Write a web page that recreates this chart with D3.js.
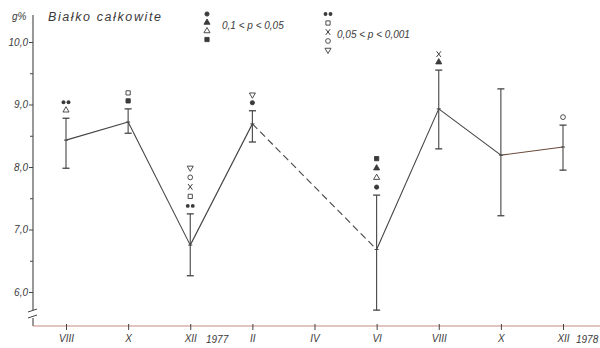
<!DOCTYPE html>
<html>
<head>
<meta charset="utf-8">
<script src="https://cdn.jsdelivr.net/npm/d3@7"></script>
<style>
  html, body { margin: 0; padding: 0; background: #fff; }
  svg { display: block; }
  text { font-family: "Liberation Sans", "DejaVu Sans", sans-serif; font-style: italic; fill: #3a3a3a; }
</style>
</head>
<body>
<svg id="chart" width="600" height="348"></svg>
<script>
// Month labels along the time axis (Aug 1977 – Dec 1978)
const monthLabels = ["VIII", "X", "XII", "II", "IV", "VI", "VIII", "X", "XII"];
// Month index for each sampling
const sampleIdx = [0, 1, 2, 3, 5, 6, 7, 8];
// Mean total protein (g%) and range ends
const means = [8.43, 8.72, 6.75, 8.69, 6.68, 8.93, 8.19, 8.32];
const upper = [8.78, 8.93, 7.25, 8.90, 7.55, 9.55, 9.25, 8.67];
const lower = [7.98, 8.54, 6.26, 8.40, 5.71, 8.29, 7.22, 7.95];
// Significance markers stacked above each range (top to bottom)
const sigMarks = [
  ["pair", "triOpen"],
  ["sqOpen", "sqFill"],
  ["triDown", "circOpen", "cross", "sqOpen", "pair"],
  ["triDown", "dot"],
  ["sqFill", "triFill", "triOpen", "dot"],
  ["cross", "triFill"],
  [],
  ["circOpen"]
];
// Segment styles between consecutive samples (II → VI is interpolated)
const segDash = [false, false, false, true, false, false, false];
const yTicks = [6, 7, 8, 9, 10];
const yMinor = [6.5, 7.5, 8.5, 9.5];
const yTickLabels = ["6,0", "7,0", "8,0", "9,0", "10,0"];
const legendA = ["dot", "triFill", "triOpen", "sqFill"];
const legendB = ["pair", "sqOpen", "cross", "circOpen", "triDown"];

const svg = d3.select("#chart");
const ink = "#444";

const x = d3.scaleLinear().domain([0, 8]).range([66, 563]);
const y = d3.scaleLinear().domain([6, 10]).range([292, 42]);

const axisX = 33, baseY = 326;

// Y axis with a break near the bottom
svg.append("line").attr("x1", axisX).attr("x2", axisX).attr("y1", 15).attr("y2", 310)
  .attr("stroke", ink).attr("stroke-width", 1.1);
svg.append("line").attr("x1", axisX).attr("x2", axisX).attr("y1", 318).attr("y2", baseY)
  .attr("stroke", ink).attr("stroke-width", 1.1);
[[309, 312], [315, 318]].forEach(([a, b]) => {
  svg.append("line").attr("x1", axisX - 5).attr("y1", b).attr("x2", axisX + 4).attr("y2", a)
    .attr("stroke", ink).attr("stroke-width", 1);
});

const gy = svg.append("g").attr("transform", `translate(${axisX},0)`)
  .call(d3.axisLeft(y).tickValues(yTicks).tickSize(4)
    .tickFormat((d, i) => yTickLabels[i]));
gy.select(".domain").remove();
gy.selectAll(".tick line").attr("stroke", ink);
gy.selectAll(".tick text").attr("font-size", 10).attr("x", -5).attr("fill", "#555")
  .style("font-family", "'Liberation Sans', sans-serif").style("font-style", "italic");
const gym = svg.append("g").attr("transform", `translate(${axisX},0)`)
  .call(d3.axisLeft(y).tickValues(yMinor).tickSize(3).tickFormat(""));
gym.select(".domain").remove();
gym.selectAll(".tick line").attr("stroke", ink);

svg.append("text").attr("x", 12).attr("y", 20).attr("font-size", 10).attr("fill", "#555").text("g%");

// X axis
svg.append("line").attr("x1", axisX).attr("x2", 600).attr("y1", baseY).attr("y2", baseY)
  .attr("stroke", "#c98a7e").attr("stroke-width", 1.2);
const gx = svg.append("g").attr("transform", `translate(0,${baseY})`)
  .call(d3.axisBottom(x).tickValues(d3.range(9)).tickSize(4)
    .tickFormat(i => monthLabels[i]));
gx.select(".domain").remove();
gx.selectAll(".tick line").attr("stroke", ink).attr("y1", -2);
gx.selectAll(".tick text").attr("font-size", 10).attr("dy", "0.9em").attr("fill", "#555")
  .style("font-family", "'Liberation Sans', sans-serif").style("font-style", "italic");

svg.append("text").attr("x", 206).attr("y", 343).attr("font-size", 10).attr("fill", "#555").text("1977");
svg.append("text").attr("x", 576).attr("y", 343).attr("font-size", 10).attr("fill", "#555").text("1978");

// Title
svg.append("text").attr("x", 48).attr("y", 21).attr("font-size", 12.5)
  .attr("letter-spacing", 1.6).attr("fill", "#555").text("Białko całkowite");

// Mean line
for (let i = 0; i < sampleIdx.length - 1; i++) {
  svg.append("line")
    .attr("x1", x(sampleIdx[i])).attr("y1", y(means[i]))
    .attr("x2", x(sampleIdx[i + 1])).attr("y2", y(means[i + 1]))
    .attr("stroke", i === 6 ? "#6b4a3a" : "#444").attr("stroke-width", 1.1)
    .attr("stroke-dasharray", segDash[i] ? "7,4" : null);
}

// Range bars
sampleIdx.forEach((m, i) => {
  const cx = x(m);
  svg.append("line").attr("x1", cx).attr("x2", cx).attr("y1", y(upper[i])).attr("y2", y(lower[i]))
    .attr("stroke", "#444").attr("stroke-width", 1.1);
  [upper[i], lower[i]].forEach(v => {
    svg.append("line").attr("x1", cx - 3.5).attr("x2", cx + 3.5).attr("y1", y(v)).attr("y2", y(v))
      .attr("stroke", "#444").attr("stroke-width", 1.3);
  });
  svg.append("line").attr("x1", cx - 2).attr("x2", cx + 2).attr("y1", y(means[i])).attr("y2", y(means[i]))
    .attr("stroke", "#444").attr("stroke-width", 1);
});

// Marker drawing
function drawMark(g, kind, cx, cy) {
  const fillC = "#3a3a3a";
  const sym = (type, size, filled, rot) => g.append("path")
    .attr("d", d3.symbol().type(type).size(size)())
    .attr("transform", `translate(${cx},${cy})` + (rot ? ` rotate(${rot})` : ""))
    .attr("fill", filled ? fillC : "#fff").attr("stroke", fillC).attr("stroke-width", 0.9);
  switch (kind) {
    case "dot": sym(d3.symbolCircle, 14, true); break;
    case "pair":
      g.append("path").attr("d", d3.symbol().type(d3.symbolCircle).size(12)())
        .attr("transform", `translate(${cx - 2.5},${cy})`).attr("fill", fillC);
      g.append("path").attr("d", d3.symbol().type(d3.symbolCircle).size(12)())
        .attr("transform", `translate(${cx + 2.5},${cy})`).attr("fill", fillC);
      break;
    case "triFill": sym(d3.symbolTriangle, 16, true); break;
    case "triOpen": sym(d3.symbolTriangle, 16, false); break;
    case "triDown": sym(d3.symbolTriangle, 16, false, 180); break;
    case "sqFill": sym(d3.symbolSquare, 18, true); break;
    case "sqOpen": sym(d3.symbolSquare, 18, false); break;
    case "circOpen": sym(d3.symbolCircle, 18, false); break;
    case "cross":
      g.append("path").attr("d", `M${cx - 2.2},${cy - 2.8}L${cx + 2.2},${cy + 2.8}M${cx + 2.2},${cy - 2.8}L${cx - 2.2},${cy + 2.8}`)
        .attr("stroke", fillC).attr("stroke-width", 1).attr("fill", "none");
      break;
  }
}

// Significance markers above each range
const marks = svg.append("g");
sampleIdx.forEach((m, i) => {
  const list = sigMarks[i];
  const n = list.length;
  const step = n > 3 ? 9.5 : 8;
  list.forEach((k, j) => {
    const cy = y(upper[i]) - 8 - (n - 1 - j) * step;
    drawMark(marks, k, x(m), cy);
  });
});

// Legend
const lg = svg.append("g");
legendA.forEach((k, j) => drawMark(lg, k, 207, 14 + j * 8.5));
svg.append("text").attr("x", 222).attr("y", 29).attr("font-size", 10).attr("fill", "#555").text("0,1 < p < 0,05");
legendB.forEach((k, j) => drawMark(lg, k, 328, 14 + j * 9));
svg.append("text").attr("x", 337).attr("y", 38).attr("font-size", 10).attr("fill", "#555").text("0,05 < p < 0,001");
</script>
</body>
</html>
